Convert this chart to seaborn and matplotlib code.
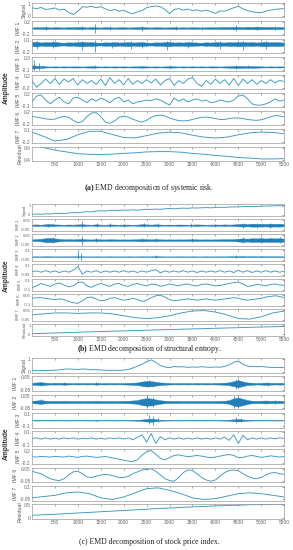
import numpy as np
import matplotlib
matplotlib.use("Agg")
import matplotlib.pyplot as plt
import seaborn as sns

# ──────────────────────────────────────────
# 0.  Setup
# ──────────────────────────────────────────
sns.set_theme(style="white")
plt.rcParams["font.family"] = ["Liberation Sans", "DejaVu Sans"]
plt.rcParams["mathtext.fontset"] = "custom"
plt.rcParams["mathtext.rm"] = "Liberation Serif"
plt.rcParams["mathtext.bf"] = "Liberation Serif:bold"

LINE = "#3898c4"
BAND = "#1f7fb6"

# sample index grids (every 100 / 250 samples)
X100 = np.arange(0, 5501, 100)
X250 = np.arange(0, 5501, 250)
XTICKS = list(range(500, 5501, 500))

# ──────────────────────────────────────────
# 1.  Data
# ──────────────────────────────────────────
# (a) systemic risk
sig_a = [0.70, 0.62, 0.72, 0.55, 0.60, 0.68, 0.50, 0.58, 0.30, 0.12,
         0.40, 0.78, 0.75, 0.82, 0.70, 0.78, 0.60, 0.45, 0.55, 0.40,
         0.48, 0.30, 0.18, 0.35, 0.45, 0.70, 0.80, 0.85, 0.78, 0.55,
         0.20, 0.55, 0.62, 0.50, 0.58, 0.45, 0.52, 0.40, 0.50, 0.35,
         0.22, 0.42, 0.40, 0.55, 0.70, 0.82, 0.60, 0.45, 0.35, 0.30,
         0.28, 0.40, 0.50, 0.55, 0.60, 0.62]
env_a1 = [0.02, 0.03, 0.025, 0.035, 0.02, 0.03, 0.025, 0.02, 0.03, 0.025,
          0.035, 0.03, 0.02, 0.03, 0.025, 0.02, 0.03, 0.025, 0.02, 0.025,
          0.03, 0.02, 0.025, 0.03, 0.035, 0.025, 0.02, 0.03, 0.025, 0.02,
          0.025, 0.03, 0.02, 0.025, 0.02, 0.03, 0.025, 0.02, 0.025, 0.03,
          0.025, 0.03, 0.035, 0.03, 0.04, 0.035, 0.03, 0.04, 0.035, 0.045,
          0.04, 0.035, 0.04, 0.03, 0.035, 0.03]
spk_a1_x = [300, 1100, 1380, 1700, 2400, 3150, 3700, 4450, 4900, 5300]
spk_a1_hi = [0.07, 0.08, 0.14, 0.06, 0.08, 0.06, 0.05, 0.10, 0.07, 0.07]
spk_a1_lo = [-0.06, -0.08, -0.16, -0.05, -0.10, -0.06, -0.05, -0.10, -0.08, -0.07]
env_a2 = [0.05, 0.06, 0.04, 0.05, 0.045, 0.06, 0.04, 0.035, 0.045, 0.04,
          0.05, 0.06, 0.045, 0.05, 0.04, 0.035, 0.045, 0.04, 0.05, 0.04,
          0.045, 0.05, 0.04, 0.045, 0.05, 0.04, 0.035, 0.045, 0.04, 0.05,
          0.055, 0.04, 0.045, 0.04, 0.05, 0.045, 0.04, 0.035, 0.045, 0.04,
          0.05, 0.045, 0.04, 0.05, 0.045, 0.055, 0.05, 0.045, 0.05, 0.04,
          0.05, 0.055, 0.045, 0.05, 0.045, 0.04]
spk_a2_x = [100, 450, 1100, 1380, 1750, 2150, 2400, 2950, 3400, 4100, 4600, 5100]
spk_a2_hi = [0.08, 0.07, 0.09, 0.10, 0.06, 0.07, 0.06, 0.08, 0.06, 0.07, 0.08, 0.07]
spk_a2_lo = [-0.12, -0.10, -0.15, -0.20, -0.10, -0.12, -0.10, -0.14, -0.10, -0.12, -0.15, -0.12]
env_a3 = [0.06, 0.04, 0.03, 0.02, 0.015, 0.02, 0.015, 0.02, 0.015, 0.02,
          0.02, 0.015, 0.02, 0.025, 0.02, 0.015, 0.02, 0.015, 0.02, 0.015,
          0.02, 0.015, 0.02, 0.02, 0.025, 0.02, 0.015, 0.02, 0.015, 0.02,
          0.025, 0.02, 0.015, 0.02, 0.015, 0.02, 0.015, 0.02, 0.015, 0.02,
          0.02, 0.015, 0.02, 0.025, 0.03, 0.035, 0.03, 0.025, 0.03, 0.025,
          0.02, 0.015, 0.02, 0.015, 0.02, 0.015]
spk_a3_x = [50, 150, 250, 1380, 2400, 3000, 4450, 4700]
spk_a3_hi = [0.25, 0.12, 0.06, 0.05, 0.04, 0.05, 0.06, 0.05]
spk_a3_lo = [-0.10, -0.10, -0.05, -0.05, -0.04, -0.05, -0.06, -0.05]
imf4_a = [0.05, -0.18, -0.05, 0.10, -0.05, 0.12, -0.08, 0.10, 0.00, 0.12,
          -0.10, 0.08, -0.05, 0.05, -0.08, 0.10, -0.12, 0.15, -0.05, 0.08,
          -0.10, 0.12, -0.08, 0.05, -0.05, 0.08, -0.03, 0.10, -0.10, 0.05,
          0.12, -0.12, 0.05, -0.05, 0.10, 0.15, -0.05, -0.15, 0.05, -0.08,
          0.10, -0.05, 0.08, -0.10, 0.12, -0.12, 0.10, -0.05, 0.08, -0.08,
          0.05, -0.05, 0.08, -0.03, 0.05, 0.02]
imf5_a = [0.00, 0.15, 0.18, 0.05, -0.05, 0.05, 0.12, 0.00, -0.05, 0.10,
          0.12, 0.05, -0.02, 0.08, 0.02, 0.10, 0.05, -0.02, 0.08, 0.12,
          0.00, 0.05, -0.05, 0.00, 0.02, 0.05, 0.03, 0.08, 0.05, -0.02,
          -0.08, 0.10, 0.02, 0.08, 0.00, 0.05, 0.08, 0.02, 0.05, -0.02,
          0.00, 0.05, 0.02, 0.00, 0.05, 0.15, 0.18, 0.08, -0.05, -0.08,
          -0.08, -0.05, 0.00, 0.08, 0.02, 0.05]
imf6_a = [0.05, 0.03, 0.00, -0.03, -0.05, -0.04, 0.02, 0.06, 0.02, -0.08,
          -0.16, -0.12, 0.05, 0.17, 0.18, 0.05, -0.14, -0.18, -0.10, 0.02,
          0.06, 0.03, -0.04, -0.10, -0.14, -0.08, 0.02, 0.08, 0.10, 0.07,
          0.00, -0.05, -0.09, -0.10, -0.09, -0.05, -0.01, 0.02, 0.03, 0.01,
          -0.02, -0.05, -0.05, -0.02, 0.00, 0.00, -0.02, -0.05, -0.07, -0.08,
          -0.06, -0.02, 0.04, 0.08, 0.07, 0.04]
imf7_a = [0.05, -0.06, -0.18, -0.14, -0.02, 0.07, 0.07, -0.01, -0.09, -0.10, -0.04, 0.02,
          0.05, 0.03, -0.03, -0.08, -0.10, -0.08, -0.02, 0.03, 0.05, 0.04, 0.01]
res_a = [0.66, 0.61, 0.565, 0.535, 0.505, 0.493, 0.49, 0.497, 0.51, 0.52, 0.535, 0.54,
         0.54, 0.53, 0.51, 0.495, 0.475, 0.46, 0.44, 0.43, 0.415, 0.415, 0.42]

# (b) structural entropy
sig_b = [0.08, 0.10, 0.07, 0.12, 0.10, 0.15, 0.18, 0.15, 0.20, 0.25,
         0.22, 0.30, 0.35, 0.32, 0.40, 0.45, 0.42, 0.48, 0.50, 0.47,
         0.52, 0.50, 0.55, 0.50, 0.55, 0.60, 0.58, 0.62, 0.60, 0.65,
         0.68, 0.65, 0.70, 0.72, 0.70, 0.75, 0.73, 0.76, 0.78, 0.75,
         0.80, 0.82, 0.80, 0.84, 0.86, 0.85, 0.88, 0.90, 0.88, 0.90,
         0.92, 0.94, 0.95, 0.97, 0.98, 0.97]
env_b1 = [0.006, 0.008, 0.005, 0.01, 0.012, 0.008, 0.006, 0.005, 0.007, 0.006,
          0.008, 0.01, 0.006, 0.005, 0.009, 0.006, 0.005, 0.008, 0.006, 0.005,
          0.007, 0.006, 0.005, 0.006, 0.01, 0.008, 0.006, 0.009, 0.006, 0.005,
          0.006, 0.005, 0.007, 0.006, 0.005, 0.006, 0.008, 0.006, 0.005, 0.006,
          0.007, 0.006, 0.008, 0.006, 0.008, 0.012, 0.015, 0.012, 0.016, 0.014,
          0.015, 0.013, 0.016, 0.014, 0.015, 0.012]
spk_b1_x = [350, 1090, 1420, 1710, 2000, 2450, 2740, 3460, 4000, 4600, 4900, 5200]
spk_b1_hi = [0.015, 0.045, 0.025, 0.02, 0.015, 0.02, 0.02, 0.02, 0.015, 0.025, 0.025, 0.025]
spk_b1_lo = [-0.015, -0.03, -0.02, -0.02, -0.015, -0.02, -0.02, -0.02, -0.015, -0.025, -0.025, -0.025]
env_b2 = [0.008, 0.01, 0.014, 0.02, 0.022, 0.018, 0.012, 0.008, 0.01, 0.008,
          0.01, 0.012, 0.008, 0.007, 0.01, 0.008, 0.007, 0.009, 0.008, 0.007,
          0.008, 0.007, 0.008, 0.009, 0.012, 0.01, 0.008, 0.01, 0.008, 0.007,
          0.008, 0.007, 0.008, 0.007, 0.008, 0.009, 0.008, 0.007, 0.008, 0.007,
          0.008, 0.008, 0.01, 0.009, 0.01, 0.015, 0.018, 0.015, 0.02, 0.018,
          0.02, 0.017, 0.02, 0.018, 0.02, 0.016]
spk_b2_x = [300, 450, 1090, 1400, 2400, 2700, 3500, 4600, 5000, 5400]
spk_b2_hi = [0.025, 0.03, 0.04, 0.02, 0.025, 0.02, 0.02, 0.03, 0.03, 0.03]
spk_b2_lo = [-0.03, -0.035, -0.05, -0.02, -0.025, -0.02, -0.02, -0.03, -0.03, -0.03]
env_b3 = [0.004, 0.005, 0.004, 0.006, 0.005, 0.004, 0.004, 0.005, 0.004, 0.005,
          0.006, 0.005, 0.004, 0.004, 0.005, 0.004, 0.004, 0.005, 0.004, 0.004,
          0.004, 0.005, 0.004, 0.004, 0.005, 0.004, 0.005, 0.008, 0.005, 0.004,
          0.004, 0.004, 0.005, 0.004, 0.004, 0.005, 0.004, 0.004, 0.005, 0.004,
          0.004, 0.005, 0.004, 0.006, 0.007, 0.008, 0.007, 0.006, 0.007, 0.006,
          0.007, 0.006, 0.006, 0.005, 0.006, 0.005]
spk_b3_x = [1000, 1080, 2700, 4450, 4600, 5000]
spk_b3_hi = [0.09, 0.06, 0.02, 0.02, 0.015, 0.01]
spk_b3_lo = [-0.03, -0.05, -0.015, -0.015, -0.01, -0.01]
imf4_b = [0.000, 0.010, -0.010, 0.015, -0.010, 0.010, -0.015, 0.010, -0.010, 0.020,
          0.080, -0.040, 0.010, -0.010, 0.015, -0.015, 0.010, -0.010, 0.010, -0.010,
          0.015, -0.010, 0.010, -0.015, 0.010, -0.010, 0.015, 0.030, -0.020, 0.010,
          -0.010, 0.010, -0.010, 0.015, -0.010, 0.010, -0.015, 0.010, -0.010, 0.010,
          -0.010, 0.015, -0.010, 0.010, -0.015, 0.020, -0.010, 0.015, -0.015, 0.010,
          -0.010, 0.015, -0.010, 0.010, -0.010, 0.005]
imf5_b = [-0.06, -0.02, 0.03, 0.00, -0.03, 0.02, 0.04, 0.00, -0.04, -0.02,
          0.05, 0.06, -0.02, -0.05, 0.00, 0.03, 0.00, -0.03, 0.02, 0.03,
          -0.01, -0.03, 0.01, 0.03, 0.00, -0.02, 0.02, 0.01, -0.03, -0.01,
          0.02, 0.00, -0.02, 0.01, 0.02, -0.01, -0.02, 0.01, 0.02, 0.00,
          -0.02, -0.01, 0.01, 0.03, 0.05, 0.06, 0.02, -0.03, -0.02, 0.01,
          0.00, -0.02, 0.01, 0.02, 0.00, -0.01]
imf6_b = [0.00, 0.01, 0.01, 0.00, -0.01, -0.02, -0.01, -0.02, -0.05, -0.07,
          -0.08, -0.04, 0.01, 0.02, -0.01, -0.04, -0.03, 0.00, 0.01, -0.01,
          -0.03, -0.02, 0.00, -0.02, -0.05, -0.03, 0.01, 0.04, 0.05, 0.02,
          -0.02, -0.04, -0.03, -0.02, -0.01, -0.02, -0.03, -0.02, -0.01, -0.02,
          -0.03, -0.02, -0.01, 0.00, 0.01, 0.00, -0.02, -0.03, -0.02, -0.01,
          0.00, 0.02, 0.03, 0.04, 0.03, 0.01]
imf7_b = [0.00, 0.01, 0.02, 0.02, 0.015, 0.02, 0.02, 0.01, -0.01, -0.03, -0.04, -0.03,
          -0.01, 0.02, 0.04, 0.045, 0.03, 0.00, -0.04, -0.045, -0.02, 0.02, 0.04]
res_b = [0.08, 0.12, 0.16, 0.20, 0.24, 0.28, 0.31, 0.35, 0.38, 0.42, 0.45, 0.49,
         0.52, 0.56, 0.59, 0.62, 0.66, 0.69, 0.72, 0.76, 0.79, 0.82, 0.85]

# (c) stock price index
sig_c = [0.10, 0.08, 0.10, 0.09, 0.10, 0.12, 0.15, 0.20, 0.22, 0.20,
         0.18, 0.22, 0.20, 0.15, 0.17, 0.14, 0.12, 0.10, 0.12, 0.10,
         0.13, 0.18, 0.30, 0.45, 0.60, 0.80, 0.95, 0.75, 0.50, 0.38,
         0.32, 0.42, 0.38, 0.40, 0.35, 0.38, 0.36, 0.40, 0.37, 0.35,
         0.38, 0.36, 0.42, 0.55, 0.75, 0.85, 0.60, 0.45, 0.42, 0.40,
         0.42, 0.38, 0.35, 0.33, 0.35, 0.32]
env_c1 = [0.008, 0.01, 0.012, 0.008, 0.006, 0.007, 0.006, 0.008, 0.006, 0.005,
          0.006, 0.005, 0.006, 0.005, 0.007, 0.005, 0.006, 0.005, 0.006, 0.005,
          0.006, 0.007, 0.008, 0.01, 0.018, 0.022, 0.02, 0.015, 0.01, 0.008,
          0.006, 0.005, 0.006, 0.005, 0.006, 0.005, 0.006, 0.005, 0.006, 0.005,
          0.006, 0.007, 0.008, 0.012, 0.02, 0.028, 0.018, 0.01, 0.008, 0.006,
          0.007, 0.009, 0.007, 0.006, 0.007, 0.006]
spk_c1_x = [200, 700, 1400, 2550, 2650, 4450, 4500, 5150]
spk_c1_hi = [0.015, 0.012, 0.012, 0.03, 0.025, 0.04, 0.035, 0.015]
spk_c1_lo = [-0.015, -0.012, -0.012, -0.03, -0.025, -0.045, -0.035, -0.015]
env_c2 = [0.01, 0.012, 0.015, 0.01, 0.008, 0.009, 0.008, 0.009, 0.008, 0.007,
          0.008, 0.007, 0.008, 0.007, 0.009, 0.008, 0.007, 0.008, 0.007, 0.008,
          0.009, 0.01, 0.012, 0.015, 0.025, 0.03, 0.028, 0.02, 0.014, 0.01,
          0.009, 0.008, 0.008, 0.007, 0.008, 0.007, 0.008, 0.007, 0.008, 0.007,
          0.008, 0.009, 0.01, 0.015, 0.03, 0.035, 0.025, 0.015, 0.01, 0.009,
          0.01, 0.012, 0.009, 0.01, 0.009, 0.008]
spk_c2_x = [200, 2500, 2650, 4400, 4500, 5300]
spk_c2_hi = [0.02, 0.045, 0.04, 0.05, 0.045, 0.015]
spk_c2_lo = [-0.02, -0.045, -0.04, -0.05, -0.045, -0.015]
env_c3 = [0.004, 0.005, 0.004, 0.004, 0.005, 0.004, 0.004, 0.004, 0.005, 0.004,
          0.004, 0.004, 0.005, 0.004, 0.006, 0.004, 0.004, 0.004, 0.005, 0.004,
          0.004, 0.005, 0.006, 0.008, 0.012, 0.02, 0.025, 0.015, 0.008, 0.006,
          0.005, 0.004, 0.005, 0.004, 0.004, 0.005, 0.004, 0.004, 0.005, 0.004,
          0.004, 0.005, 0.006, 0.008, 0.015, 0.02, 0.012, 0.007, 0.005, 0.004,
          0.005, 0.004, 0.004, 0.005, 0.004, 0.004]
spk_c3_x = [1400, 2550, 2650, 2750, 4450, 4550]
spk_c3_hi = [0.01, 0.08, 0.07, 0.03, 0.05, 0.04]
spk_c3_lo = [-0.01, -0.06, -0.08, -0.03, -0.05, -0.03]
imf4_c = [0.000, 0.010, -0.010, 0.010, -0.010, 0.005, -0.010, 0.010, -0.005, 0.010,
          -0.010, 0.005, -0.005, 0.010, -0.010, 0.005, -0.010, 0.010, -0.005, 0.010,
          -0.010, 0.010, -0.020, 0.020, 0.060, -0.060, 0.080, -0.080, 0.030, -0.020,
          0.010, -0.010, 0.010, -0.010, 0.005, -0.010, 0.010, -0.010, 0.005, -0.010,
          0.010, -0.010, 0.020, -0.030, 0.060, -0.080, 0.050, -0.020, 0.010, -0.010,
          0.010, -0.010, 0.010, -0.005, 0.010, 0.000]
imf5_c = [0.00, -0.01, 0.01, 0.00, -0.01, 0.01, 0.00, -0.01, 0.02, 0.00,
          -0.02, 0.01, 0.02, 0.00, -0.02, -0.01, 0.01, -0.02, -0.05, -0.08,
          -0.11, -0.14, -0.15, -0.10, 0.05, 0.16, 0.20, 0.08, -0.05, -0.10,
          -0.03, 0.04, 0.06, 0.03, 0.00, 0.02, 0.04, 0.02, -0.01, -0.03,
          -0.01, 0.02, 0.05, 0.07, 0.04, -0.03, -0.02, 0.02, 0.04, 0.01,
          -0.02, 0.00, 0.03, 0.01, -0.01, 0.01]
imf6_c = [0.03, 0.02, 0.01, -0.01, -0.03, -0.04, -0.045, -0.03, 0.00, 0.025,
          0.03, 0.01, -0.015, -0.02, -0.01, 0.00, 0.005, 0.00, -0.01, -0.02,
          -0.02, -0.01, 0.01, 0.025, 0.04, 0.045, 0.05, 0.03, 0.00, -0.03,
          -0.045, -0.05, -0.02, 0.02, 0.04, 0.035, 0.01, -0.02, -0.04, -0.05,
          -0.04, -0.01, 0.02, 0.035, 0.04, 0.035, 0.01, -0.01, -0.025, -0.03,
          -0.02, 0.00, 0.015, 0.02, 0.01, 0.005]
imf7_c = [-0.03, -0.015, 0.00, 0.03, 0.04, 0.02, -0.03, -0.05, -0.02, 0.03, 0.08, 0.09,
          0.06, 0.02, -0.03, -0.05, -0.04, -0.01, 0.02, 0.03, 0.02, 0.00, -0.02]
res_c = [0.10, 0.12, 0.14, 0.165, 0.19, 0.215, 0.24, 0.265, 0.29, 0.315, 0.34, 0.37,
         0.39, 0.415, 0.435, 0.455, 0.475, 0.49, 0.505, 0.52, 0.53, 0.54, 0.545]

# row tables: (label, kind, data, y tick pair)
rows_a = [
    ("Signal", "line", (X100, sig_a), (0, 1)),
    ("IMF 1", "band", (env_a1, spk_a1_x, spk_a1_lo, spk_a1_hi), (-0.2, 0.2)),
    ("IMF 2", "band", (env_a2, spk_a2_x, spk_a2_lo, spk_a2_hi), (-0.2, 0.1)),
    ("IMF 3", "band", (env_a3, spk_a3_x, spk_a3_lo, spk_a3_hi), (-0.1, 0.3)),
    ("IMF 4", "line", (X100, imf4_a), (-0.2, 0.2)),
    ("IMF 5", "line", (X100, imf5_a), (-0.1, 0.2)),
    ("IMF 6", "line", (X100, imf6_a), (-0.2, 0.2)),
    ("IMF 7", "line", (X250, imf7_a), (-0.2, 0.1)),
    ("Residual", "line", (X250, res_a), (0.4, 0.6)),
]
rows_b = [
    ("Signal", "line", (X100, sig_b), (0, 1)),
    ("IMF 1", "band", (env_b1, spk_b1_x, spk_b1_lo, spk_b1_hi), (-0.05, 0.05)),
    ("IMF 2", "band", (env_b2, spk_b2_x, spk_b2_lo, spk_b2_hi), (-0.05, 0.05)),
    ("IMF 3", "band", (env_b3, spk_b3_x, spk_b3_lo, spk_b3_hi), (-0.05, 0.1)),
    ("IMF 4", "line", (X100, imf4_b), (-0.05, 0.1)),
    ("IMF 5", "line", (X100, imf5_b), (-0.1, 0.1)),
    ("IMF 6", "line", (X100, imf6_b), (-0.1, 0.05)),
    ("IMF 7", "line", (X250, imf7_b), (-0.05, 0.05)),
    ("Residual", "line", (X250, res_b), (0, 1)),
]
rows_c = [
    ("Signal", "line", (X100, sig_c), (0, 1)),
    ("IMF 1", "band", (env_c1, spk_c1_x, spk_c1_lo, spk_c1_hi), (-0.05, 0.05)),
    ("IMF 2", "band", (env_c2, spk_c2_x, spk_c2_lo, spk_c2_hi), (-0.05, 0.05)),
    ("IMF 3", "band", (env_c3, spk_c3_x, spk_c3_lo, spk_c3_hi), (-0.1, 0.1)),
    ("IMF 4", "line", (X100, imf4_c), (-0.1, 0.1)),
    ("IMF 5", "line", (X100, imf5_c), (-0.2, 0.2)),
    ("IMF 6", "line", (X100, imf6_c), (-0.05, 0.05)),
    ("IMF 7", "line", (X250, imf7_c), (-0.05, 0.1)),
    ("Residual", "line", (X250, res_c), (0, 0.5)),
]


# ──────────────────────────────────────────
# 2.  Drawing helpers
# ──────────────────────────────────────────
def draw_row(ax, kind, data):
    if kind == "line":
        x, y = data
        sns.lineplot(x=x, y=y, ax=ax, color=LINE, linewidth=0.65)
    else:
        env, sx, slo, shi = data
        env = np.asarray(env)
        ax.fill_between(X100, -env, env, color=BAND, linewidth=0.3, edgecolor=BAND)
        ax.vlines(sx, slo, shi, color=BAND, linewidth=0.5)


def style_row(ax, name, ticks, last, lab_size, tick_size, pad_frac):
    lo, hi = ticks
    pad = (hi - lo) * pad_frac
    ax.set_xlim(0, 5500)
    ax.set_ylim(lo - pad, hi + pad)
    ax.set_yticks([lo, hi])
    ax.set_yticklabels([f"{lo:g}", f"{hi:g}"])
    ax.set_xticks(XTICKS)
    ax.set_xticklabels([str(t) for t in XTICKS] if last else [])
    ax.set_ylabel(name, fontsize=lab_size, color="#555555", labelpad=1)
    ax.tick_params(direction="in", length=1.5, width=0.4, labelsize=tick_size, pad=1,
                   colors="#666666", top=True, right=True)
    ax.tick_params(axis="x", labelsize=3.5)
    for s in ax.spines.values():
        s.set_color("#9a9a9a")
        s.set_linewidth(0.5)


def draw_panel(fig, rows, top, bottom, hspace, caption, cap_y,
               lab_size=3.8, tick_size=3.5, pad_frac=0.1):
    gs = fig.add_gridspec(len(rows), 1, left=0.109, right=0.97,
                          top=top, bottom=bottom, hspace=hspace)
    for i, (name, kind, data, ticks) in enumerate(rows):
        ax = fig.add_subplot(gs[i])
        draw_row(ax, kind, data)
        style_row(ax, name, ticks, i == len(rows) - 1, lab_size, tick_size, pad_frac)
    fig.text(0.022, (top + bottom) / 2 - 0.01, "Amplitude", rotation=90,
             fontsize=4.8, fontweight="bold", color="#333333", ha="center", va="center")
    fig.text(0.51, cap_y, caption, fontsize=5.6, family="Liberation Serif",
             color="#222222", ha="center", va="center")


# ──────────────────────────────────────────
# 3.  Figure
# ──────────────────────────────────────────
fig = plt.figure(figsize=(2.93, 5.5), dpi=100)

draw_panel(fig, rows_a, 0.9945, 0.7073, 0.28,
           r"$\mathbf{(a)}$ EMD decomposition of systemic risk.", 0.658)
draw_panel(fig, rows_b, 0.6291, 0.3891, 0.2,
           r"$\mathbf{(b)}$ EMD decomposition of structural entropy.", 0.365,
           lab_size=3.0, tick_size=3.1, pad_frac=0.16)
draw_panel(fig, rows_c, 0.3491, 0.0564, 0.22,
           r"(c) EMD decomposition of stock price index.", 0.0145)

fig.savefig("out.png", dpi=100)
plt.close(fig)
